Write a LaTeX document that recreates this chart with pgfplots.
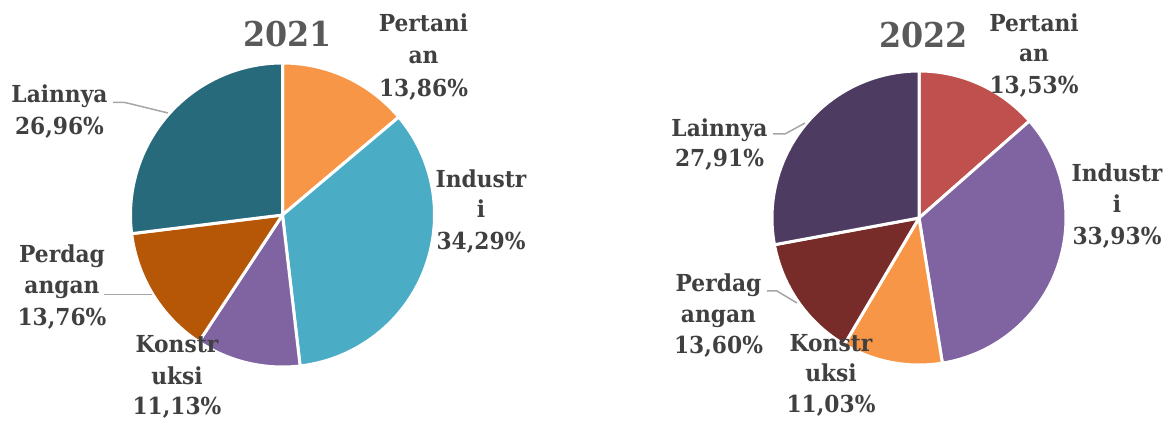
\documentclass[border=0pt]{standalone}
\usepackage{pgfplots}
\pgfplotsset{compat=1.18}
\usepackage{fontspec}
\setmainfont{DejaVu Serif}[FakeStretch=0.93]
\definecolor{txt}{HTML}{404040}
\definecolor{ttl}{HTML}{595959}
\definecolor{lead}{HTML}{A6A6A6}
\definecolor{cA}{HTML}{F79646}
\definecolor{cB}{HTML}{4BACC6}
\definecolor{cC}{HTML}{8064A2}
\definecolor{cD}{HTML}{B65708}
\definecolor{cE}{HTML}{276A7C}
\definecolor{dA}{HTML}{C0504D}
\definecolor{dB}{HTML}{8064A2}
\definecolor{dC}{HTML}{F79646}
\definecolor{dD}{HTML}{772C2A}
\definecolor{dE}{HTML}{4D3B62}
% slice: centre x, centre y, radius, percent, colour
\newcommand\pieslice[5]{%
  \pgfmathsetmacro\endang{\curang-3.6*#4}%
  \edef\tmp{\noexpand\filldraw[fill=#5, draw=white, line width=1.5pt, line join=round]
    (axis cs:#1,#2) -- ++(\curang:#3) arc[start angle=\curang, end angle=\endang, radius=#3] -- cycle;}%
  \tmp
  \global\let\curang\endang}
\newcommand\lbl[3]{\node[anchor=base, text=txt, font=\bfseries\fontsize{11.7}{14}\selectfont, inner sep=0pt] at (axis cs:#1,#2) {#3};}
\begin{document}
\begin{tikzpicture}
\begin{axis}[
  width=586.5pt, height=210.5pt, scale only axis,
  xmin=0, xmax=1173, ymin=0, ymax=421, y dir=reverse,
  hide axis, clip=false]
% ---- 2021 ----
\def\curang{90}
\pieslice{282.5}{215}{76pt}{13.86}{cA}
\pieslice{282.5}{215}{76pt}{34.29}{cB}
\pieslice{282.5}{215}{76pt}{11.13}{cC}
\pieslice{282.5}{215}{76pt}{13.76}{cD}
\pieslice{282.5}{215}{76pt}{26.96}{cE}
% ---- 2022 ----
\def\curang{90}
\pieslice{919}{218}{73.5pt}{13.53}{dA}
\pieslice{919}{218}{73.5pt}{33.93}{dB}
\pieslice{919}{218}{73.5pt}{11.03}{dC}
\pieslice{919}{218}{73.5pt}{13.60}{dD}
\pieslice{919}{218}{73.5pt}{27.91}{dE}
% leaders
\draw[lead, line width=0.75pt] (axis cs:113,102.5) -- (axis cs:125,102.5) -- (axis cs:168,113);
\draw[lead, line width=0.75pt] (axis cs:104,294.5) -- (axis cs:152,294.5);
\draw[lead, line width=0.75pt] (axis cs:773,134) -- (axis cs:785,134) -- (axis cs:805,123);
\draw[lead, line width=0.75pt] (axis cs:767,291) -- (axis cs:777,291) -- (axis cs:797,303);
% titles
\node[anchor=base, text=ttl, font=\bfseries\fontsize{17.1}{20}\selectfont, inner sep=0pt] at (axis cs:287.5,47) {2021};
\node[anchor=base, text=ttl, font=\bfseries\fontsize{17.1}{20}\selectfont, inner sep=0pt] at (axis cs:923.5,48) {2022};
% labels 2021
\lbl{423.5}{32}{Pertani}
\lbl{423.5}{64}{an}
\lbl{423.5}{97}{13,86\%}
\lbl{481}{188}{Industr}
\lbl{481}{218}{i}
\lbl{481}{250}{34,29\%}
\lbl{177}{353}{Konstr}
\lbl{177}{385}{uksi}
\lbl{177}{415}{11,13\%}
\lbl{62}{263}{Perdag}
\lbl{62}{294}{angan}
\lbl{62}{326}{13,76\%}
\lbl{59.5}{103}{Lainnya}
\lbl{59.5}{135}{26,96\%}
% labels 2022
\lbl{1034}{32}{Pertani}
\lbl{1034}{62}{an}
\lbl{1034}{94}{13,53\%}
\lbl{1117}{182}{Industr}
\lbl{1117}{213}{i}
\lbl{1117}{245}{33,93\%}
\lbl{831}{352}{Konstr}
\lbl{831}{382}{uksi}
\lbl{831}{413}{11,03\%}
\lbl{718.5}{292}{Perdag}
\lbl{718.5}{323}{angan}
\lbl{718.5}{354}{13,60\%}
\lbl{719.5}{137}{Lainnya}
\lbl{719.5}{167}{27,91\%}
\end{axis}
\pgfresetboundingbox
\path[use as bounding box] (current axis.south west) rectangle (current axis.north east);
\end{tikzpicture}
\end{document}
